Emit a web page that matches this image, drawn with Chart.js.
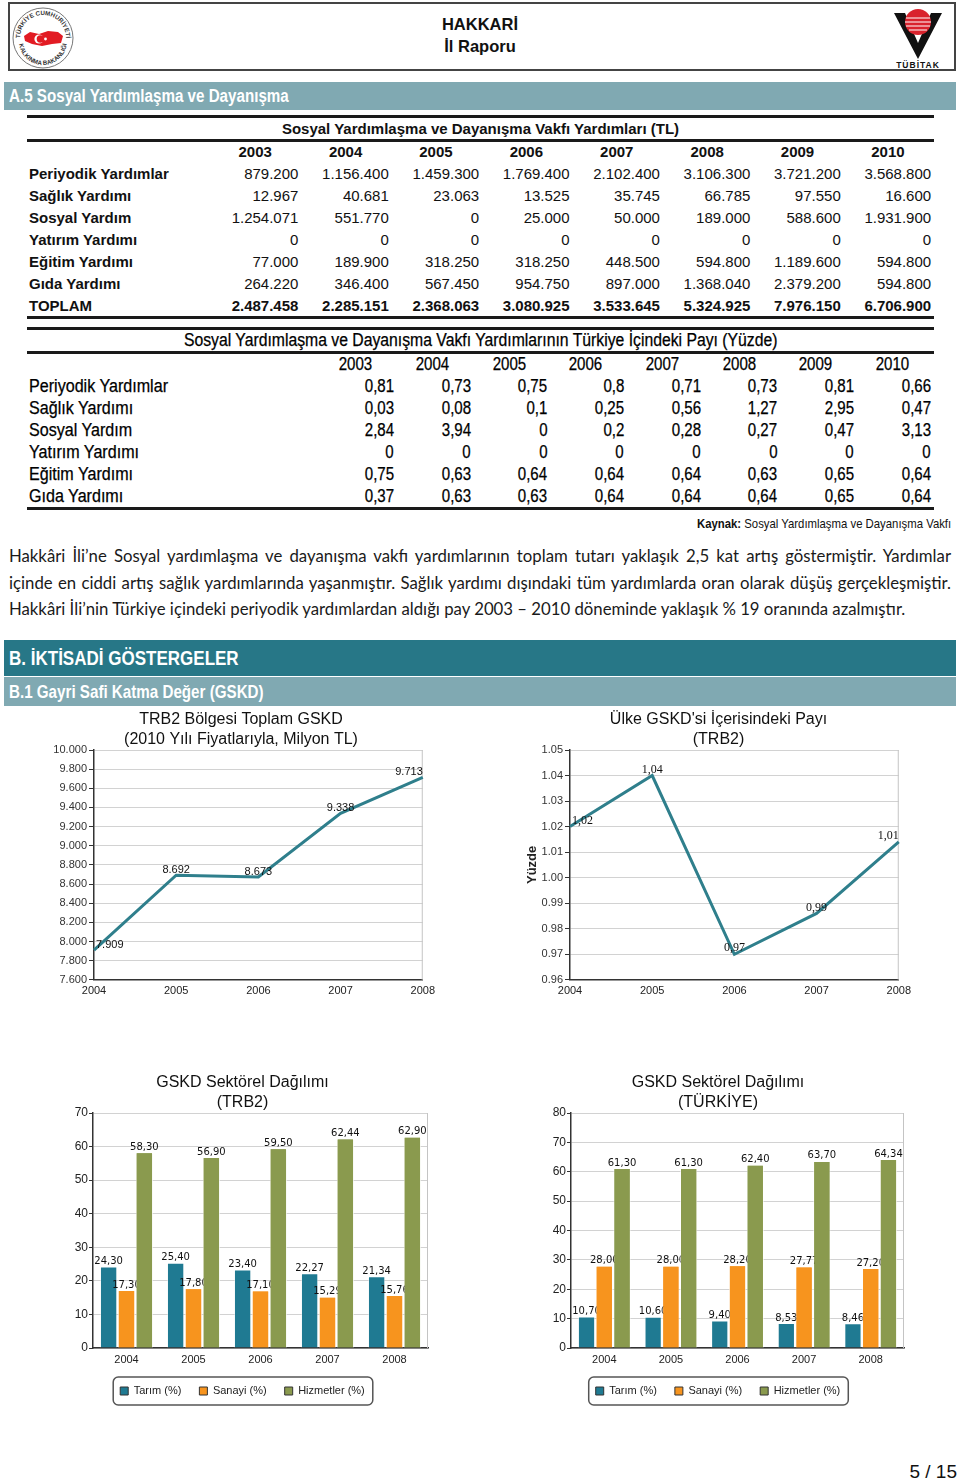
<!DOCTYPE html>
<html lang="tr">
<head>
<meta charset="utf-8">
<title>Hakkari İl Raporu</title>
<script src="https://cdn.jsdelivr.net/npm/chart.js@4.4.1/dist/chart.umd.min.js"></script>
<style>
body { margin: 0; background: #fff; font-family: Arial, "Liberation Sans", sans-serif; color: #111; }
#page { position: relative; width: 960px; height: 1484px; overflow: hidden; }
.abs { position: absolute; }
.narrow { display: inline-block; transform: scaleX(.82); transform-origin: 0 50%; white-space: nowrap; }
#head { left: 8px; top: 2px; width: 944px; height: 65px; border: 2px solid #444; }
.htxt { left: 0; width: 960px; text-align: center; font-weight: bold; font-size: 16.5px; color: #111; }
.bar { left: 4px; width: 952px; color: #fff; font-weight: bold; }
.bar span { position: absolute; left: 5px; }
.rule { position: absolute; left: 27px; width: 907px; height: 3px; background: #1a1a1a; }
.ttl { position: absolute; left: 27px; width: 907px; text-align: center; white-space: nowrap; }
.t1row { position: absolute; left: 27px; width: 907px; display: grid; grid-template-columns: 181px repeat(8, 90.4px); font-size: 15px; height: 22px; line-height: 22px; }
.t1row span { text-align: right; white-space: nowrap; }
.t1row span.lab { text-align: left; padding-left: 2px; font-weight: bold; }
.t1row.hdr span { text-align: center; padding-left: 4px; font-weight: bold; }
.t1row.tot span { font-weight: bold; }
.t2row { position: absolute; left: 27px; width: 907px; display: grid; grid-template-columns: 290.3px repeat(8, 76.7px); font-size: 17.5px; height: 22px; line-height: 22px; color: #000; -webkit-text-stroke: 0.25px #000; }
.t2row span { text-align: right; white-space: nowrap; }
.t2row span i { display: inline-block; font-style: normal; transform: scaleX(.86); transform-origin: 100% 50%; }
.t2row span.lab { text-align: left; padding-left: 2px; }
.t2row span.lab i { transform-origin: 0 50%; transform: scaleX(.92); }
.t2row.hdr span { text-align: center; }
.t2row.hdr span i { transform-origin: 50% 50%; }
#para { left: 9px; top: 543px; width: 942px; font-family: Lato, "Open Sans", sans-serif; color: #1a1a1a; line-height: 26.5px; }
#para div { white-space: nowrap; }
#para div.j { text-align: justify; text-align-last: justify; }
canvas { position: absolute; }
</style>
</head>
<body>
<div id="page">
  <div id="head" class="abs"></div>
  <svg class="abs" style="left:11px;top:5px" width="64" height="64" viewBox="0 0 64 64">
    <defs>
      <path id="arcT" d="M9,33 A23,23 0 0 1 55,33"/>
      <path id="arcB" d="M8,36 A24,24 0 0 0 56,36"/>
    </defs>
    <circle cx="32" cy="33" r="30" fill="#fff" stroke="#777" stroke-width="1"/>
    <text font-size="6.2" font-weight="bold" fill="#333"><textPath href="#arcT" startOffset="50%" text-anchor="middle">TÜRKİYE CUMHURİYETİ</textPath></text>
    <text font-size="6.2" font-weight="bold" fill="#333"><textPath href="#arcB" startOffset="50%" text-anchor="middle">KALKINMA BAKANLIĞI</textPath></text>
    <path d="M13,31 L19,27 L28,29 L37,26 L47,27 L52,31 L50,38 L41,39 L31,41 L21,39 L14,36 Z" fill="#e21b23"/>
    <circle cx="28" cy="34" r="4.6" fill="#fff"/>
    <circle cx="29.4" cy="34" r="3.7" fill="#e21b23"/>
    <circle cx="34.5" cy="34" r="1.4" fill="#fff"/>
  </svg>
  <svg class="abs" style="left:892px;top:6px" width="52" height="64" viewBox="0 0 52 64">
    <polygon points="2,7 13,7 26,37 39,7 50,7 26,53" fill="#111"/>
    <circle cx="26" cy="16" r="13" fill="#d9232d"/>
    <path d="M14,12 H38 M13,16 H39 M14,20 H38 M17,24 H35" stroke="#fff" stroke-width="1.1"/>
    <text x="26" y="62" font-size="8.5" font-weight="bold" text-anchor="middle" letter-spacing="1" fill="#111">TÜBİTAK</text>
  </svg>
  <div class="abs htxt" style="top:15px">HAKKARİ</div>
  <div class="abs htxt" style="top:37px">İl Raporu</div>

  <div class="abs bar" style="top:82px;height:28px;background:#80a9b2;">
    <span class="narrow" style="top:3px;font-size:18.3px;transform:scaleX(.83)">A.5 Sosyal Yardımlaşma ve Dayanışma</span>
  </div>

  <div id="tables"></div>

  <div class="abs" style="right:9px;top:516px;font-size:13px;white-space:nowrap;transform:scaleX(.873);transform-origin:100% 50%;color:#111"><b>Kaynak:</b> Sosyal Yardımlaşma ve Dayanışma Vakfı</div>

  <div id="para" class="abs">
    <div class="j">Hakkâri İli’ne Sosyal yardımlaşma ve dayanışma vakfı yardımlarının toplam tutarı yaklaşık 2,5 kat artış göstermiştir. Yardımlar</div>
    <div class="j">içinde en ciddi artış sağlık yardımlarında yaşanmıştır. Sağlık yardımı dışındaki tüm yardımlarda oran olarak düşüş gerçekleşmiştir.</div>
    <div>Hakkâri İli’nin Türkiye içindeki periyodik yardımlardan aldığı pay 2003 – 2010 döneminde yaklaşık % 19 oranında azalmıştır.</div>
  </div>

  <div class="abs bar" style="top:640px;height:36px;background:#277787;">
    <span class="narrow" style="top:6px;font-size:21px;transform:scaleX(.81)">B. İKTİSADİ GÖSTERGELER</span>
  </div>
  <div class="abs bar" style="top:677px;height:29px;background:#80a9b2;">
    <span class="narrow" style="top:4px;font-size:18.5px">B.1 Gayri Safi Katma Değer (GSKD)</span>
  </div>

  <canvas id="c1" width="400" height="302" style="left:40px;top:704px"></canvas>
  <canvas id="c2" width="410" height="302" style="left:506px;top:704px"></canvas>
  <canvas id="c3" width="400" height="338" style="left:40px;top:1070px"></canvas>
  <canvas id="c4" width="400" height="338" style="left:516px;top:1070px"></canvas>

  <div class="abs" style="right:3px;top:1461px;font-size:19px;color:#111">5 / 15</div>
</div>

<script>
// ---- table data ----
const tableYears = ['2003', '2004', '2005', '2006', '2007', '2008', '2009', '2010'];
const yardimTurleri = ['Periyodik Yardımlar', 'Sağlık Yardımı', 'Sosyal Yardım', 'Yatırım Yardımı', 'Eğitim Yardımı', 'Gıda Yardımı'];
const yardimTL = [
  ['879.200', '1.156.400', '1.459.300', '1.769.400', '2.102.400', '3.106.300', '3.721.200', '3.568.800'],
  ['12.967', '40.681', '23.063', '13.525', '35.745', '66.785', '97.550', '16.600'],
  ['1.254.071', '551.770', '0', '25.000', '50.000', '189.000', '588.600', '1.931.900'],
  ['0', '0', '0', '0', '0', '0', '0', '0'],
  ['77.000', '189.900', '318.250', '318.250', '448.500', '594.800', '1.189.600', '594.800'],
  ['264.220', '346.400', '567.450', '954.750', '897.000', '1.368.040', '2.379.200', '594.800']
];
const yardimToplam = ['2.487.458', '2.285.151', '2.368.063', '3.080.925', '3.533.645', '5.324.925', '7.976.150', '6.706.900'];
const yardimPay = [
  ['0,81', '0,73', '0,75', '0,8', '0,71', '0,73', '0,81', '0,66'],
  ['0,03', '0,08', '0,1', '0,25', '0,56', '1,27', '2,95', '0,47'],
  ['2,84', '3,94', '0', '0,2', '0,28', '0,27', '0,47', '3,13'],
  ['0', '0', '0', '0', '0', '0', '0', '0'],
  ['0,75', '0,63', '0,64', '0,64', '0,64', '0,63', '0,65', '0,64'],
  ['0,37', '0,63', '0,63', '0,64', '0,64', '0,64', '0,65', '0,64']
];

// ---- chart data ----
const years = ['2004', '2005', '2006', '2007', '2008'];
const gskdTRB2 = [7909, 8692, 8673, 9338, 9713];
const payTRB2 = [1.02, 1.04, 0.97, 0.986, 1.014];
const sektorler = ['Tarım (%)', 'Sanayi (%)', 'Hizmetler (%)'];
const tarimTRB2 = [24.30, 25.40, 23.40, 22.27, 21.34];
const sanayiTRB2 = [17.30, 17.80, 17.10, 15.29, 15.76];
const hizmetTRB2 = [58.30, 56.90, 59.50, 62.44, 62.90];
const tarimTR = [10.70, 10.60, 9.40, 8.53, 8.46];
const sanayiTR = [28.00, 28.00, 28.20, 27.77, 27.20];
const hizmetTR = [61.30, 61.30, 62.40, 63.70, 64.34];

// tables
const tbl = document.getElementById('tables');
let html = '';
html += '<div class="rule" style="top:115px"></div>';
html += '<div class="ttl" style="top:118px;height:21px;line-height:21px;font-size:15px;font-weight:bold">Sosyal Yardımlaşma ve Dayanışma Vakfı Yardımları (TL)</div>';
html += '<div class="rule" style="top:139px"></div>';
html += '<div class="t1row hdr" style="top:142px;height:20px;line-height:20px"><span></span>' + tableYears.map(y => '<span>' + y + '</span>').join('') + '</div>';
yardimTurleri.forEach((name, i) => {
  html += '<div class="t1row" style="top:' + (163 + 22 * i) + 'px"><span class="lab">' + name + '</span>' +
    yardimTL[i].map(v => '<span>' + v + '</span>').join('') + '</div>';
});
html += '<div class="t1row tot" style="top:' + (163 + 22 * 6) + 'px"><span class="lab">TOPLAM</span>' +
  yardimToplam.map(v => '<span>' + v + '</span>').join('') + '</div>';
html += '<div class="rule" style="top:316px"></div>';

html += '<div class="rule" style="top:327px"></div>';
html += '<div class="ttl" style="top:330px;height:21px;line-height:21px;font-size:17.5px;color:#000;-webkit-text-stroke:0.25px #000"><i class="narrow" style="font-style:normal;transform:scaleX(.9);transform-origin:50% 50%">Sosyal Yardımlaşma ve Dayanışma Vakfı Yardımlarının Türkiye İçindeki Payı (Yüzde)</i></div>';
html += '<div class="rule" style="top:351px"></div>';
html += '<div class="t2row hdr" style="top:354px;height:20px;line-height:20px"><span></span>' + tableYears.map(y => '<span><i>' + y + '</i></span>').join('') + '</div>';
yardimTurleri.forEach((name, i) => {
  html += '<div class="t2row" style="top:' + (375 + 22 * i) + 'px"><span class="lab"><i>' + name + '</i></span>' +
    yardimPay[i].map(v => '<span><i>' + v + '</i></span>').join('') + '</div>';
});
html += '<div class="rule" style="top:507px"></div>';
tbl.innerHTML = html;

// paragraph: fit Lato to the original line widths
(function () {
  const para = document.getElementById('para');
  const lines = para.querySelectorAll('div');
  const probe = document.createElement('span');
  probe.style.cssText = 'position:absolute;visibility:hidden;white-space:nowrap;font-family:Lato,"Open Sans",sans-serif;font-size:16px';
  document.body.appendChild(probe);
  const targets = [936, 936, 897];
  let k = 10;
  lines.forEach((ln, i) => {
    probe.textContent = ln.textContent;
    k = Math.min(k, targets[i] / probe.getBoundingClientRect().width);
  });
  probe.remove();
  para.style.fontSize = (16 * k) + 'px';
})();

// ---- charts ----
const FONT = 'Arial, "Liberation Sans", sans-serif';
const LINE = '#2f7f8c';
const TEAL = '#1f7a92';
const ORANGE = '#f7941e';
const OLIVE = '#8a9a4e';
Chart.defaults.font.family = FONT;
Chart.defaults.color = '#222';
Chart.defaults.animation = false;

const formats = {
  thousands: v => String(Math.round(v)).replace(/\B(?=(\d{3})+(?!\d))/g, '.'),
  comma2: v => v.toFixed(2).replace('.', ',')
};

// right border of the plot area
const framePlugin = {
  id: 'frame',
  beforeDatasetsDraw(chart) {
    const { ctx, chartArea: a } = chart;
    ctx.save();
    ctx.strokeStyle = '#c4c4c4';
    ctx.lineWidth = 1;
    ctx.beginPath();
    ctx.moveTo(a.right - 0.5, a.top);
    ctx.lineTo(a.right - 0.5, a.bottom);
    ctx.stroke();
    ctx.restore();
  }
};

// value labels; bars of later series are drawn again over earlier labels
const labelPlugin = {
  id: 'vlabels',
  afterDatasetsDraw(chart, args, opts) {
    const ctx = chart.ctx, a = chart.chartArea;
    const fmt = formats[opts.fmt];
    ctx.save();
    chart.data.datasets.forEach((ds, i) => {
      const meta = chart.getDatasetMeta(i);
      if (opts.overlap && i > 0) meta.data.forEach(el => el.draw(ctx));
      ctx.font = opts.font;
      ctx.fillStyle = '#111';
      ctx.textAlign = 'left';
      ctx.textBaseline = 'bottom';
      meta.data.forEach((el, j) => {
        const txt = fmt(ds.data[j]);
        const w = ctx.measureText(txt).width;
        let x = el.x - w / 2;
        if (opts.clamp) x = Math.min(Math.max(x, a.left + 2), a.right - w);
        ctx.fillText(txt, x, el.y - (opts.dy || 0));
      });
    });
    ctx.restore();
  }
};

// rounded frame round the legend
const legendBox = {
  id: 'legendBox',
  afterDraw(chart) {
    const lg = chart.legend;
    if (!lg || !lg.options.display || !lg.legendHitBoxes.length) return;
    const hb = lg.legendHitBoxes;
    const l = Math.min(...hb.map(b => b.left)) - 7;
    const r = Math.max(...hb.map(b => b.left + b.width)) + 8;
    const t = hb[0].top - 8.5, h = hb[0].height + 17;
    const ctx = chart.ctx;
    ctx.save();
    ctx.strokeStyle = '#555';
    ctx.lineWidth = 1.5;
    ctx.beginPath();
    ctx.roundRect(l, t, r - l, h, 5);
    ctx.stroke();
    ctx.restore();
  }
};

function lineChart(id, titleLines, values, yOpts, padL, yWidth, labelFont, yTitle) {
  return new Chart(document.getElementById(id), {
    type: 'line',
    data: {
      labels: years,
      datasets: [{ data: values, borderColor: LINE, borderWidth: 3, pointRadius: 0, tension: 0, fill: false }]
    },
    options: {
      responsive: false,
      layout: { padding: { left: padL, right: 12, top: 0, bottom: 3 } },
      plugins: {
        legend: { display: false },
        tooltip: { enabled: false },
        title: {
          display: true, text: titleLines, color: '#111',
          font: { size: 16, weight: 'normal' }, padding: { top: 6.4, bottom: 1.2 }
        },
        vlabels: { font: labelFont, fmt: yOpts.fmt, clamp: true }
      },
      scales: {
        x: {
          offset: false,
          grid: { display: false, drawTicks: false },
          border: { color: '#333', width: 1.5 },
          ticks: { padding: 5, font: { size: 11 }, color: '#222', maxRotation: 0, autoSkip: false }
        },
        y: {
          min: yOpts.min, max: yOpts.max,
          ticks: { stepSize: yOpts.step, padding: 2, font: { size: 11 }, color: '#333', callback: yOpts.tick },
          grid: { color: '#d2d2d2', tickColor: '#333', tickLength: 5 },
          border: { color: '#333', width: 1.5 },
          title: yTitle || { display: false },
          afterFit: s => { s.width = yWidth; }
        }
      }
    },
    plugins: [framePlugin, labelPlugin]
  });
}

lineChart('c1', ['TRB2 Bölgesi Toplam GSKD', '(2010 Yılı Fiyatlarıyla, Milyon TL)'], gskdTRB2,
  { min: 7600, max: 10000, step: 200, fmt: 'thousands', tick: v => formats.thousands(v) },
  14, 40, '11px ' + FONT);

lineChart('c2', ['Ülke GSKD\'si İçerisindeki Payı', '(TRB2)'], payTRB2,
  { min: 0.96, max: 1.05, step: 0.01, fmt: 'comma2', tick: v => v.toFixed(2) },
  27, 37, '12px "Liberation Serif", "Times New Roman", serif',
  { display: true, text: 'Yüzde', color: '#222', font: { size: 13, weight: 'bold' }, padding: { top: -8, bottom: 0 } });

function barChart(id, region, tarim, sanayi, hizmet, ymax, padL, yWidth) {
  return new Chart(document.getElementById(id), {
    type: 'bar',
    data: {
      labels: years,
      datasets: [
        { label: sektorler[0], data: tarim, backgroundColor: TEAL },
        { label: sektorler[1], data: sanayi, backgroundColor: ORANGE },
        { label: sektorler[2], data: hizmet, backgroundColor: OLIVE }
      ]
    },
    options: {
      responsive: false,
      datasets: { bar: { categoryPercentage: 0.8, barPercentage: 0.97, borderWidth: 1, borderColor: 'rgba(255,255,255,0.45)' } },
      layout: { padding: { left: padL, right: 12, top: 0, bottom: 1.5 } },
      plugins: {
        tooltip: { enabled: false },
        title: {
          display: true, text: ['GSKD Sektörel Dağılımı', region], color: '#111',
          font: { size: 16, weight: 'normal' }, padding: { top: 3.4, bottom: 1.2 }
        },
        legend: {
          position: 'bottom',
          labels: {
            boxWidth: 8, boxHeight: 8, padding: 18, color: '#222', font: { size: 11 },
            generateLabels: chart => Chart.defaults.plugins.legend.labels.generateLabels(chart)
              .map(it => Object.assign(it, { strokeStyle: '#333', lineWidth: 1 }))
          }
        },
        vlabels: { font: '10px "DejaVu Sans", Verdana, sans-serif', fmt: 'comma2', overlap: true }
      },
      scales: {
        x: {
          grid: { display: false, drawTicks: false },
          border: { color: '#333', width: 1.5 },
          ticks: { padding: 5, font: { size: 11 }, color: '#222' },
          afterFit: s => { s.height = 19.5; }
        },
        y: {
          min: 0, max: ymax,
          ticks: { stepSize: 10, padding: 1, font: { size: 12 }, color: '#222' },
          grid: { color: '#d2d2d2', tickColor: '#333', tickLength: 4 },
          border: { color: '#333', width: 1.5 },
          afterFit: s => { s.width = yWidth; }
        }
      }
    },
    plugins: [framePlugin, labelPlugin, legendBox]
  });
}

barChart('c3', '(TRB2)', tarimTRB2, sanayiTRB2, hizmetTRB2, 70, 17, 36);
barChart('c4', '(TÜRKİYE)', tarimTR, sanayiTR, hizmetTR, 80, 16, 39);
</script>
</body>
</html>
